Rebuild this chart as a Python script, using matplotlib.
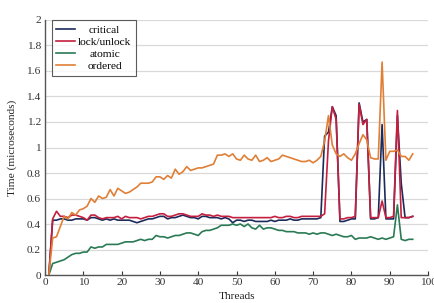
import matplotlib
matplotlib.use("Agg")
import matplotlib.pyplot as plt
import numpy as np

threads = list(range(1, 97))

critical = [0, 0.43, 0.43, 0.44, 0.44, 0.43, 0.43, 0.44, 0.44, 0.44,
            0.43, 0.45, 0.45, 0.44, 0.43, 0.44, 0.43, 0.44, 0.43, 0.43,
            0.43, 0.43, 0.42, 0.41, 0.42, 0.43, 0.44, 0.44, 0.45, 0.46,
            0.46, 0.44, 0.45, 0.45, 0.46, 0.47, 0.46, 0.45, 0.45, 0.44,
            0.46, 0.46, 0.45, 0.45, 0.45, 0.44, 0.45, 0.44, 0.41, 0.43,
            0.43, 0.42, 0.43, 0.43, 0.42, 0.42, 0.42, 0.42, 0.43, 0.42,
            0.43, 0.43, 0.43, 0.44, 0.43, 0.43, 0.44, 0.44, 0.44, 0.44,
            0.44, 0.45, 1.09, 1.12, 1.32, 1.25, 0.42, 0.42, 0.43, 0.44,
            0.44, 1.35, 1.20, 1.22, 0.44, 0.44, 0.45, 1.18, 0.44, 0.44,
            0.44, 1.25, 0.72, 0.45, 0.45, 0.46]

lock_unlock = [0, 0.44, 0.50, 0.46, 0.46, 0.45, 0.47, 0.47, 0.46, 0.45,
               0.43, 0.47, 0.47, 0.45, 0.44, 0.45, 0.45, 0.45, 0.46, 0.44,
               0.46, 0.45, 0.45, 0.45, 0.44, 0.45, 0.46, 0.46, 0.47, 0.48,
               0.48, 0.46, 0.46, 0.47, 0.48, 0.48, 0.47, 0.46, 0.46, 0.46,
               0.48, 0.47, 0.47, 0.46, 0.47, 0.46, 0.46, 0.46, 0.45, 0.45,
               0.45, 0.45, 0.45, 0.45, 0.45, 0.45, 0.45, 0.45, 0.45, 0.46,
               0.45, 0.45, 0.46, 0.46, 0.45, 0.45, 0.46, 0.46, 0.46, 0.46,
               0.46, 0.46, 0.48, 1.05, 1.32, 1.22, 0.44, 0.44, 0.45, 0.45,
               0.46, 1.34, 1.18, 1.22, 0.45, 0.45, 0.45, 0.58, 0.45, 0.45,
               0.46, 1.29, 0.45, 0.45, 0.45, 0.46]

atomic = [0, 0.09, 0.10, 0.11, 0.12, 0.14, 0.16, 0.17, 0.17, 0.18,
          0.18, 0.22, 0.21, 0.22, 0.22, 0.24, 0.24, 0.24, 0.24, 0.25,
          0.26, 0.26, 0.26, 0.27, 0.28, 0.27, 0.28, 0.28, 0.31, 0.30,
          0.30, 0.29, 0.30, 0.31, 0.31, 0.32, 0.33, 0.33, 0.32, 0.31,
          0.34, 0.35, 0.35, 0.36, 0.37, 0.39, 0.39, 0.39, 0.40, 0.39,
          0.40, 0.38, 0.40, 0.37, 0.36, 0.39, 0.36, 0.37, 0.37, 0.36,
          0.35, 0.35, 0.34, 0.34, 0.34, 0.33, 0.33, 0.33, 0.32, 0.33,
          0.32, 0.33, 0.33, 0.32, 0.31, 0.32, 0.31, 0.30, 0.30, 0.31,
          0.28, 0.29, 0.29, 0.29, 0.30, 0.29, 0.28, 0.29, 0.28, 0.29,
          0.30, 0.55, 0.28, 0.27, 0.28, 0.28]

ordered = [0, 0.29, 0.30, 0.38, 0.46, 0.44, 0.49, 0.47, 0.51, 0.52,
           0.54, 0.60, 0.57, 0.62, 0.60, 0.61, 0.67, 0.62, 0.68, 0.66,
           0.64, 0.65, 0.67, 0.69, 0.72, 0.72, 0.72, 0.73, 0.77, 0.77,
           0.75, 0.78, 0.76, 0.83, 0.79, 0.81, 0.85, 0.82, 0.83, 0.84,
           0.84, 0.85, 0.86, 0.87, 0.94, 0.94, 0.95, 0.93, 0.95, 0.91,
           0.90, 0.94, 0.91, 0.90, 0.94, 0.89, 0.90, 0.92, 0.89, 0.90,
           0.91, 0.94, 0.93, 0.92, 0.91, 0.90, 0.89, 0.89, 0.90, 0.88,
           0.90, 0.93, 1.05, 1.25, 1.02, 0.95, 0.93, 0.95, 0.92, 0.90,
           0.95, 1.03, 1.10, 1.06, 0.92, 0.91, 0.91, 1.67, 0.90, 0.97,
           0.97, 0.98, 0.93, 0.93, 0.90, 0.95]

series_names = ["critical", "lock/unlock", "atomic", "ordered"]
colors = ["#1d2b5b", "#c41f3e", "#2a7a55", "#e07f36"]
x_ticks = [0, 10, 20, 30, 40, 50, 60, 70, 80, 90, 100]
y_ticks = [0, 0.2, 0.4, 0.6, 0.8, 1, 1.2, 1.4, 1.6, 1.8, 2]
y_tick_labels = ["0", "0.2", "0.4", "0.6", "0.8", "1", "1.2", "1.4", "1.6", "1.8", "2"]

FS = 8.2
plt.rcParams['font.family'] = ['Liberation Serif', 'DejaVu Serif']
fig = plt.figure(figsize=(4.34, 3.03), dpi=100)
ax = fig.add_axes([0.1037, 0.0924, 0.8826, 0.8416])

for name, vals, c in zip(series_names, [critical, lock_unlock, atomic, ordered], colors):
    ax.plot(threads, vals, color=c, lw=1.2, label=name)

ax.set_xlim(0, 100)
ax.set_ylim(0, 2)
ax.set_xticks(x_ticks)
ax.set_yticks(y_ticks)
ax.set_yticklabels(y_tick_labels)
ax.tick_params(axis='both', labelsize=FS, colors='#333333')
ax.tick_params(axis='x', direction='in', length=3, width=0.8, pad=2.5)
ax.tick_params(axis='y', length=0, pad=3)
ax.grid(axis='y', color='#d9d9d9', lw=0.9)
ax.set_axisbelow(True)
for s in ['top', 'right']:
    ax.spines[s].set_visible(False)
for s in ['left', 'bottom']:
    ax.spines[s].set_color('#555555')
    ax.spines[s].set_linewidth(1.0)

ax.set_xlabel("Threads", fontsize=FS, color='#222222', labelpad=3)
ax.set_ylabel("Time (microseconds)", fontsize=FS, color='#222222', labelpad=7)

leg = ax.legend(loc='upper left', bbox_to_anchor=(0.018, 1.0), fontsize=FS,
                frameon=True, fancybox=False, edgecolor='#333333',
                handlelength=1.6, handletextpad=0.3, borderpad=0.4,
                labelspacing=0.2, borderaxespad=0)
leg.get_frame().set_linewidth(0.8)

# center the legend labels within their column
fig.canvas.draw()
r = fig.canvas.get_renderer()
texts = leg.get_texts()
widths = [t.get_window_extent(r).width for t in texts]
maxw = max(widths)
for t, w in zip(texts, widths):
    t.set_x((maxw - w) / 2.0)

fig.savefig("out.png", dpi=100)
